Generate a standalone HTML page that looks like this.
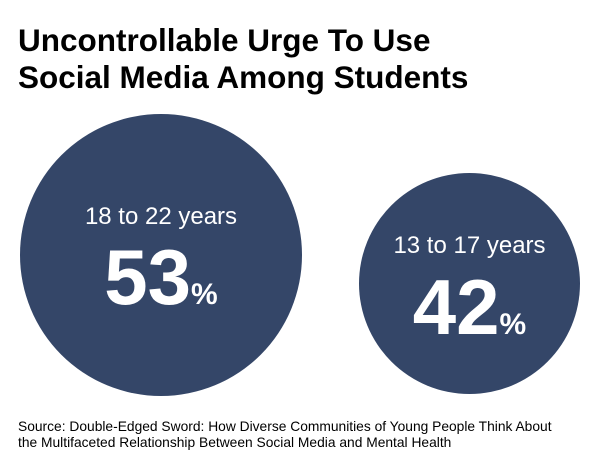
<!DOCTYPE html><html><head><style>
body{margin:0;width:600px;height:472px;background:#fff;position:relative;overflow:hidden;font-family:"Liberation Sans",sans-serif}
.t{position:absolute;left:18px;top:22px;font-weight:bold;font-size:31.5px;line-height:37px;color:#000;letter-spacing:0px}
.c{position:absolute;border-radius:50%;background:#344668;color:#fff;text-align:center}
.lab{position:absolute;left:0;right:0;font-size:24px}
.num{position:absolute;left:0;right:0;font-size:78px;font-weight:bold;letter-spacing:0px}
.num span{font-size:30px;letter-spacing:0}
.s{position:absolute;left:18px;top:419px;font-size:13.8px;line-height:16px;color:#000}
</style></head><body>
<div class="t">Uncontrollable Urge To Use<br>Social Media Among Students</div>
<div class="c" style="left:20px;top:114px;width:282px;height:282px">
<div class="lab" style="top:89px">18 to 22 years</div>
<div class="num" style="top:118px">53<span>%</span></div>
</div>
<div class="c" style="left:359px;top:173px;width:221px;height:221px">
<div class="lab" style="top:59px">13 to 17 years</div>
<div class="num" style="top:89px">42<span>%</span></div>
</div>
<div class="s">Source: Double-Edged Sword: How Diverse Communities of Young People Think About<br>the Multifaceted Relationship Between Social Media and Mental Health</div>
</body></html>
